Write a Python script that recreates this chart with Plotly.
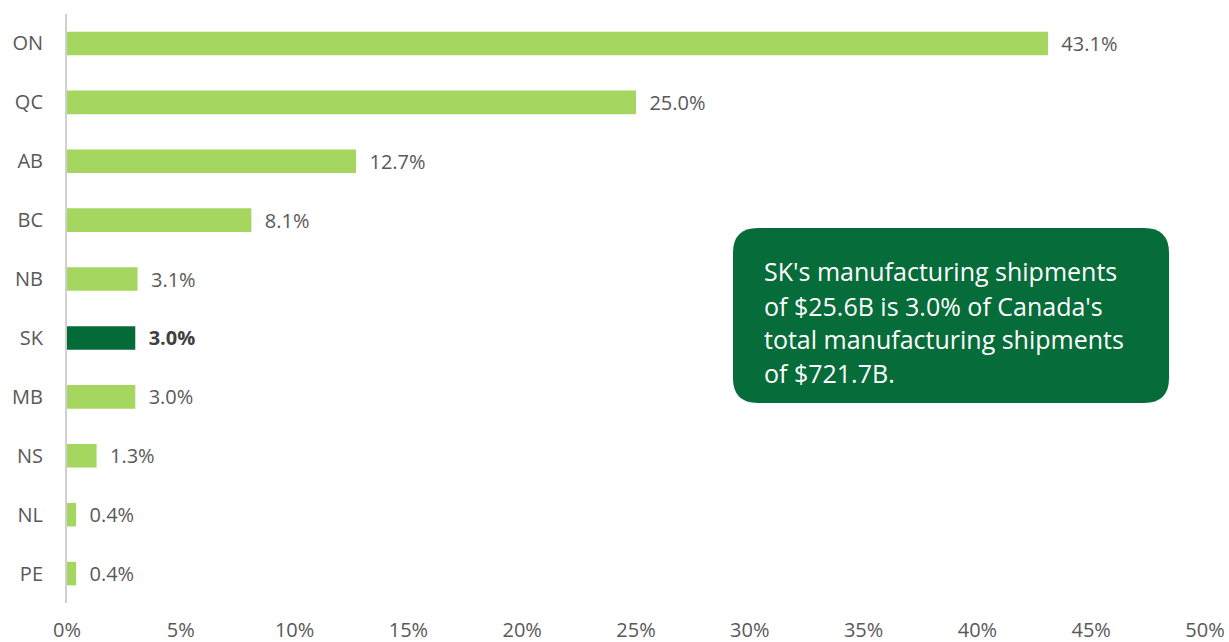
import plotly.graph_objects as go

provinces = ["ON", "QC", "AB", "BC", "NB", "SK", "MB", "NS", "NL", "PE"]
shares = [43.1, 25.0, 12.7, 8.1, 3.1, 3.0, 3.0, 1.3, 0.4, 0.4]
highlight = "SK"
x_ticks = [0, 5, 10, 15, 20, 25, 30, 35, 40, 45, 50]
note_lines = ["SK's manufacturing shipments",
              "of $25.6B is 3.0% of Canada's",
              "total manufacturing shipments",
              "of $721.7B."]

LIGHT = "#A5D65F"
DARK = "#046B38"

colors = [DARK if p == highlight else LIGHT for p in provinces]
labels = [("\u00a0\u00a0<b><span style='color:#404040'>" + f"{v:.1f}%" + "</span></b>") if p == highlight
          else f"\u00a0\u00a0{v:.1f}%"
          for p, v in zip(provinces, shares)]

fig = go.Figure()
fig.add_trace(go.Bar(
    y=provinces, x=shares, orientation="h",
    marker=dict(color=colors, line=dict(width=0)),
    width=0.4,
    text=labels, textposition="outside", cliponaxis=False, constraintext="none",
    textfont=dict(family="Open Sans", size=20, color="#595959"),
))

fig.update_layout(
    width=1229, height=642,
    margin=dict(l=67, r=24, t=14, b=39),
    plot_bgcolor="white", paper_bgcolor="white",
    showlegend=False,
    font=dict(family="Open Sans", size=18, color="#595959"),
    xaxis=dict(range=[0, 50], tickvals=x_ticks, ticktext=[f"{t}%" for t in x_ticks],
               showgrid=False, zeroline=False, showline=False, automargin=False,
               ticks="", ticklabelstandoff=13,
               tickfont=dict(family="Open Sans", size=20, color="#595959")),
    yaxis=dict(autorange="reversed", showgrid=False, zeroline=False, automargin=False,
               showline=True, linecolor="#D0D0D0", linewidth=2,
               ticks="", ticklabelstandoff=18,
               tickfont=dict(family="Open Sans", size=20, color="#595959")),
)

# rounded box
x0, x1 = 0.5852, 0.9684
y0, y1 = 0.3396, 0.6367
rx, ry = 0.022, 0.0424
path = (f"M {x0+rx},{y1} L {x1-rx},{y1} Q {x1},{y1} {x1},{y1-ry} "
        f"L {x1},{y0+ry} Q {x1},{y0} {x1-rx},{y0} L {x0+rx},{y0} "
        f"Q {x0},{y0} {x0},{y0+ry} L {x0},{y1-ry} Q {x0},{y1} {x0+rx},{y1} Z")
fig.add_shape(type="path", path=path, xref="paper", yref="paper",
              fillcolor="#066C39", line=dict(width=0), layer="above")
line_y = [0.5637, 0.5043, 0.4482, 0.3905]
for txt, yy in zip(note_lines, line_y):
    fig.add_annotation(text=txt, xref="paper", yref="paper", x=0.6107, y=yy,
                       xanchor="left", yanchor="middle", align="left", showarrow=False,
                       font=dict(family="Open Sans", size=25, color="white"))

fig.write_html("out.html", config={"displayModeBar": False},
               post_script="document.body.style.margin='0px';document.body.style.overflow='hidden';")
